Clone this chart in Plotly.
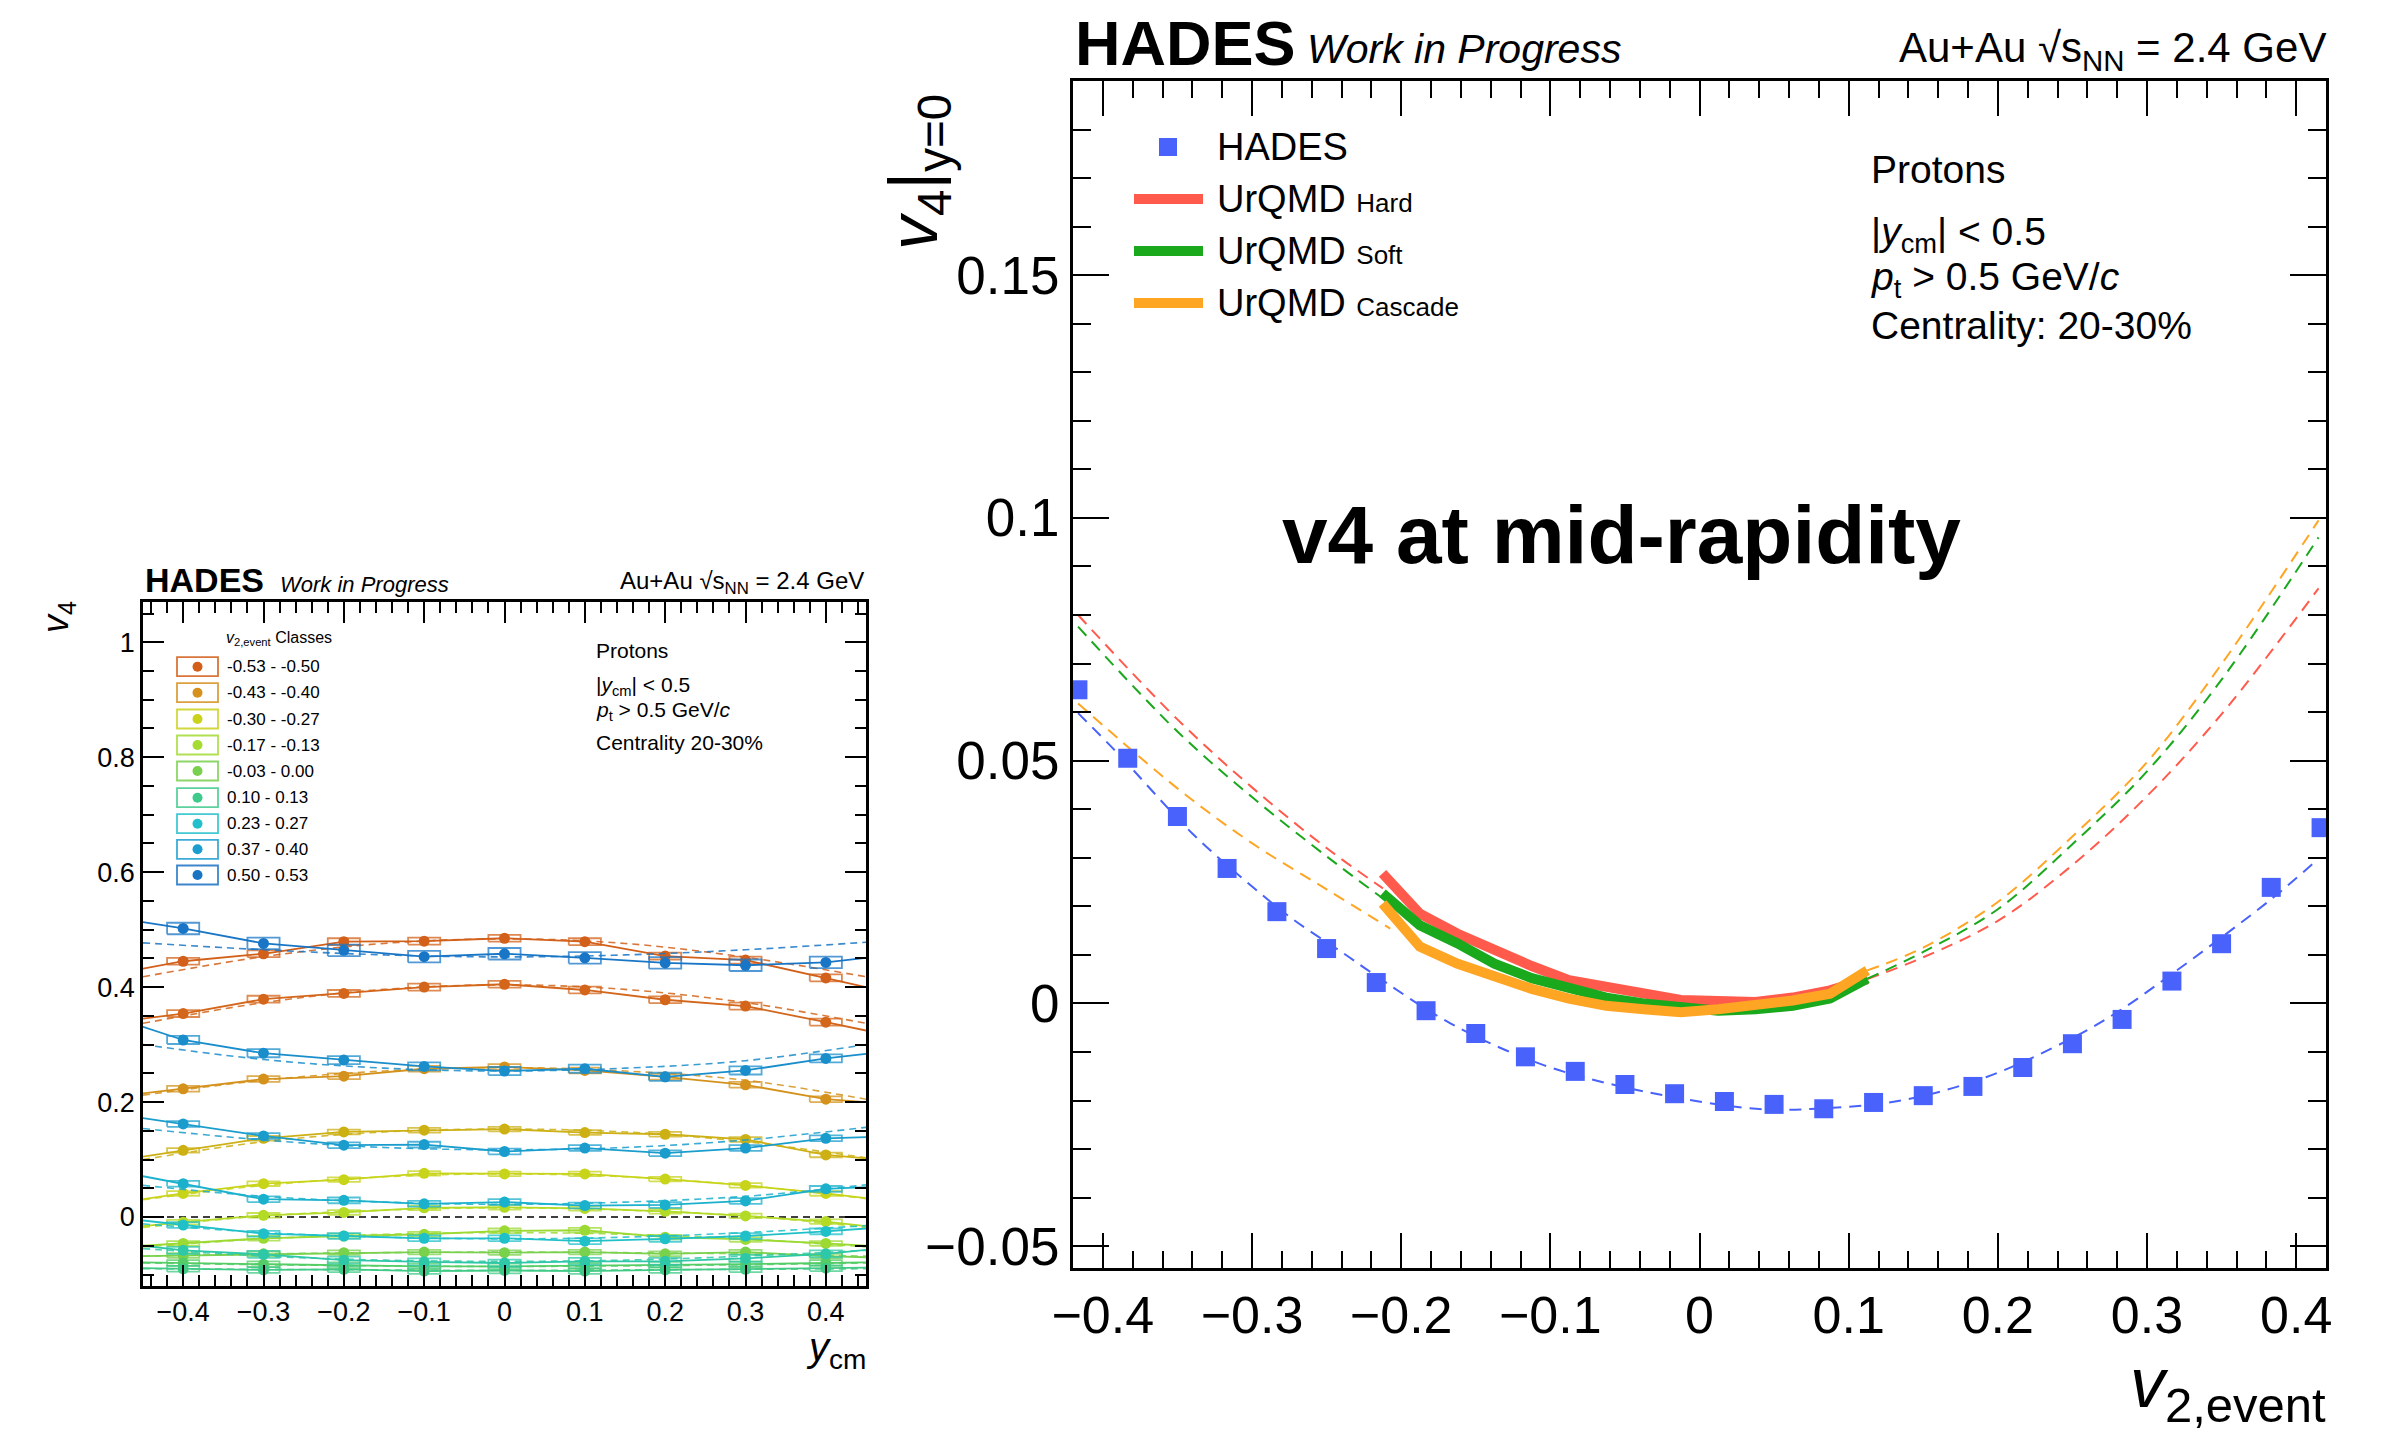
import plotly.graph_objects as go

W, H = 2387, 1438
FONT = "Liberation Sans, Arial, Helvetica, sans-serif"

# ---------------- right panel: v4|y=0 vs v2,event ----------------
hades_v2 = [-0.4167, -0.3833, -0.35, -0.3167, -0.2833, -0.25, -0.2167, -0.1833, -0.15,
            -0.1167, -0.0833, -0.05, -0.0167, 0.0167, 0.05, 0.0833, 0.1167, 0.15, 0.1833,
            0.2167, 0.25, 0.2833, 0.3167, 0.35, 0.3833, 0.4167]
hades_v4 = [0.0646, 0.0505, 0.0385, 0.0278, 0.0189, 0.0113, 0.0043, -0.0015, -0.0062,
            -0.0110, -0.0140, -0.0167, -0.0186, -0.0202, -0.0208, -0.0217, -0.0204, -0.0190,
            -0.0171, -0.0132, -0.0083, -0.0033, 0.0046, 0.0123, 0.0239, 0.0362]

hades_fit_v2 = [-0.4166, -0.39, -0.34, -0.305, -0.272, -0.2385, -0.2193, -0.167, -0.1045,
                -0.036, 0.038, 0.078, 0.135, 0.192, 0.2495, 0.2816, 0.3155, 0.3495, 0.3834, 0.4128]
hades_fit_v4 = [0.0598, 0.0515, 0.0350, 0.0254, 0.0172, 0.0103, 0.0062, -0.0041, -0.0127,
                -0.0182, -0.0217, -0.0217, -0.0200, -0.0152, -0.0072, -0.0015, 0.0058, 0.0135,
                0.0215, 0.0292]

urqmd_v2 = [-0.2125, -0.1875, -0.1625, -0.1375, -0.1125, -0.0875, -0.0625, -0.0375,
            -0.0125, 0.0125, 0.0375, 0.0625, 0.0875, 0.1125]
urqmd_hard = [0.0268, 0.0185, 0.0144, 0.0110, 0.0077, 0.0048, 0.0033, 0.0018, 0.0007,
              0.0005, 0.0003, 0.0012, 0.0027, 0.0050]
urqmd_soft = [0.0227, 0.0161, 0.0124, 0.0082, 0.0052, 0.0030, 0.0012, 0.0000, -0.0008,
              -0.0015, -0.0012, -0.0005, 0.0010, 0.0051]
urqmd_cascade = [0.0206, 0.0117, 0.0082, 0.0055, 0.0030, 0.0010, -0.0005, -0.0012, -0.0018,
                 -0.0012, -0.0004, 0.0006, 0.0020, 0.0068]

fitL_v2 = [-0.4166, -0.35, -0.30, -0.25, -0.2122]
fitL_v2_cascade = [-0.4166, -0.35, -0.30, -0.25, -0.2073]
fitL_hard = [0.0800, 0.0585, 0.0445, 0.0320, 0.0237]
fitL_soft = [0.0776, 0.0560, 0.0425, 0.0303, 0.0216]
fitL_cascade = [0.0618, 0.0443, 0.0330, 0.0235, 0.0154]
fitR_v2 = [0.1125, 0.15, 0.20, 0.25, 0.30, 0.35, 0.415]
fitR_hard = [0.0050, 0.0095, 0.0170, 0.0285, 0.0427, 0.0596, 0.0855]
fitR_soft = [0.0051, 0.0106, 0.0194, 0.0328, 0.0478, 0.0667, 0.0960]
fitR_cascade = [0.0068, 0.0115, 0.0209, 0.0344, 0.0497, 0.0699, 0.0995]

C_HADES = "#4862FB"
C_HARD = "#FF5A4B"
C_SOFT = "#1AA81C"
C_CASC = "#FFA524"

# ---------------- left panel: v4 vs y_cm ----------------
ycm = [-0.4, -0.3, -0.2, -0.1, 0.0, 0.1, 0.2, 0.3, 0.4]
ycm_edges = [-0.45, 0.45]
ycm_fit = [-0.45, -0.3, -0.15, 0.0, 0.15, 0.3, 0.45]

v4_s01 = [0.445, 0.458, 0.479, 0.480, 0.485, 0.479, 0.454, 0.447, 0.416]
v4_s02 = [0.354, 0.379, 0.389, 0.400, 0.405, 0.395, 0.378, 0.367, 0.339]
v4_s03 = [0.223, 0.240, 0.245, 0.258, 0.261, 0.255, 0.244, 0.230, 0.205]
v4_s04 = [0.116, 0.137, 0.148, 0.151, 0.153, 0.147, 0.144, 0.135, 0.108]
v4_s05 = [0.041, 0.058, 0.065, 0.076, 0.075, 0.075, 0.066, 0.055, 0.041]
v4_s06 = [-0.009, 0.003, 0.008, 0.016, 0.017, 0.015, 0.010, 0.002, -0.008]
v4_s07 = [-0.046, -0.037, -0.033, -0.030, -0.024, -0.023, -0.035, -0.039, -0.046]
v4_s08 = [-0.067, -0.064, -0.062, -0.061, -0.062, -0.061, -0.064, -0.061, -0.068]
v4_s09 = [-0.080, -0.082, -0.084, -0.086, -0.086, -0.085, -0.083, -0.082, -0.080]
v4_s10 = [-0.090, -0.092, -0.091, -0.094, -0.093, -0.094, -0.092, -0.091, -0.089]
v4_s11 = [-0.058, -0.065, -0.075, -0.078, -0.080, -0.077, -0.077, -0.072, -0.064]
v4_s12 = [-0.014, -0.029, -0.033, -0.037, -0.037, -0.042, -0.038, -0.033, -0.025]
v4_s13 = [0.058, 0.031, 0.029, 0.023, 0.026, 0.020, 0.021, 0.028, 0.049]
v4_s14 = [0.162, 0.141, 0.125, 0.126, 0.114, 0.120, 0.111, 0.120, 0.137]
v4_s15 = [0.308, 0.285, 0.273, 0.262, 0.254, 0.258, 0.244, 0.255, 0.276]
v4_s16 = [0.502, 0.476, 0.464, 0.453, 0.458, 0.451, 0.442, 0.438, 0.443]

edge_s01 = [0.432, 0.400]
edge_s02 = [0.345, 0.3245]
edge_s03 = [0.215, 0.200]
edge_s04 = [0.105, 0.102]
edge_s05 = [0.031, 0.033]
edge_s06 = [-0.016, -0.016]
edge_s07 = [-0.050, -0.050]
edge_s08 = [-0.068, -0.070]
edge_s09 = [-0.079, -0.079]
edge_s10 = [-0.089, -0.088]
edge_s11 = [-0.050, -0.057]
edge_s12 = [-0.006, -0.020]
edge_s13 = [0.071, 0.052]
edge_s14 = [0.172, 0.139]
edge_s15 = [0.331, 0.284]
edge_s16 = [0.513, 0.451]

fit_s01 = [0.418, 0.453, 0.476, 0.484, 0.476, 0.452, 0.418]
fit_s02 = [0.337, 0.373, 0.396, 0.404, 0.396, 0.373, 0.337]
fit_s03 = [0.212, 0.238, 0.254, 0.260, 0.254, 0.238, 0.205]
fit_s04 = [0.100, 0.131, 0.148, 0.153, 0.148, 0.131, 0.103]
fit_s05 = [0.030, 0.055, 0.070, 0.075, 0.070, 0.055, 0.032]
fit_s06 = [-0.018, 0.002, 0.012, 0.016, 0.012, 0.002, -0.018]
fit_s07 = [-0.052, -0.038, -0.030, -0.027, -0.030, -0.038, -0.052]
fit_s08 = [-0.068, -0.064, -0.062, -0.061, -0.062, -0.064, -0.068]
fit_s09 = [-0.080, -0.083, -0.085, -0.086, -0.085, -0.083, -0.080]
fit_s10 = [-0.090, -0.091, -0.092, -0.093, -0.092, -0.091, -0.090]
fit_s11 = [-0.055, -0.068, -0.075, -0.077, -0.075, -0.068, -0.058]
fit_s12 = [-0.012, -0.027, -0.035, -0.038, -0.035, -0.027, -0.015]
fit_s13 = [0.055, 0.036, 0.026, 0.022, 0.026, 0.036, 0.056]
fit_s14 = [0.154, 0.134, 0.121, 0.117, 0.121, 0.134, 0.156]
fit_s15 = [0.300, 0.274, 0.259, 0.254, 0.259, 0.272, 0.300]
fit_s16 = [0.477, 0.465, 0.456, 0.4525, 0.456, 0.465, 0.478]

sys_err = [0.006, 0.006, 0.005, 0.004, 0.004, 0.004, 0.004, 0.004,
           0.005, 0.005, 0.006, 0.005, 0.005, 0.005, 0.007, 0.010]
series_colors = ["#D2601A", "#D3661A", "#D4921C", "#CDB014", "#C8D41A", "#B3DA25",
                 "#9CDA33", "#7AD14C", "#55CD66", "#40CA85", "#2EC8A8", "#20C0C9",
                 "#1BB0CC", "#1A9DCD", "#1A8DCB", "#1976C6"]

legend_labels = ["-0.53 - -0.50", "-0.43 - -0.40", "-0.30 - -0.27", "-0.17 - -0.13",
                 "-0.03 - 0.00", "0.10 - 0.13", "0.23 - 0.27", "0.37 - 0.40", "0.50 - 0.53"]
legend_colors = ["#D35E19", "#D6901E", "#CBD21C", "#A4DC32", "#78D04E", "#3FCA8C",
                 "#22C0CC", "#1B9DD0", "#1B73C4"]

all_v4 = [v4_s01, v4_s02, v4_s03, v4_s04, v4_s05, v4_s06, v4_s07, v4_s08,
          v4_s09, v4_s10, v4_s11, v4_s12, v4_s13, v4_s14, v4_s15, v4_s16]
all_edge = [edge_s01, edge_s02, edge_s03, edge_s04, edge_s05, edge_s06, edge_s07, edge_s08,
            edge_s09, edge_s10, edge_s11, edge_s12, edge_s13, edge_s14, edge_s15, edge_s16]
all_fit = [fit_s01, fit_s02, fit_s03, fit_s04, fit_s05, fit_s06, fit_s07, fit_s08,
           fit_s09, fit_s10, fit_s11, fit_s12, fit_s13, fit_s14, fit_s15, fit_s16]


def px(x):
    return x / W


def py(y):
    return 1 - y / H


fig = go.Figure()

# ---- left panel traces ----
fig.add_trace(go.Scatter(x=ycm_edges, y=[0, 0], mode="lines", xaxis="x", yaxis="y",
                         line=dict(color="black", width=1.6, dash="7px,5px"),
                         hoverinfo="skip"))
BOX_HW = 0.02
for v4s, edges, fits, se, col in zip(all_v4, all_edge, all_fit, sys_err, series_colors):
    fig.add_trace(go.Scatter(x=ycm_fit, y=fits, mode="lines", xaxis="x", yaxis="y",
                             line=dict(color=col, width=1.6, dash="7px,5px", shape="spline"),
                             opacity=0.85, hoverinfo="skip"))
    bx, by = [], []
    for xv, yv in zip(ycm, v4s):
        bx += [xv - BOX_HW, xv + BOX_HW, xv + BOX_HW, xv - BOX_HW, xv - BOX_HW, None]
        by += [yv - se, yv - se, yv + se, yv + se, yv - se, None]
    fig.add_trace(go.Scatter(x=bx, y=by, mode="lines", xaxis="x", yaxis="y",
                             line=dict(color=col, width=1.8), opacity=0.75,
                             hoverinfo="skip"))
    fig.add_trace(go.Scatter(x=[ycm_edges[0]] + ycm + [ycm_edges[1]],
                             y=[edges[0]] + v4s + [edges[1]],
                             mode="lines", xaxis="x", yaxis="y",
                             line=dict(color=col, width=1.8), hoverinfo="skip"))
    fig.add_trace(go.Scatter(x=ycm, y=v4s, mode="markers", xaxis="x", yaxis="y",
                             marker=dict(color=col, size=11, symbol="circle"),
                             hoverinfo="skip"))

# ---- right panel traces ----
dash_r = "12px,8px"
fig.add_trace(go.Scatter(x=hades_fit_v2, y=hades_fit_v4, mode="lines", xaxis="x2", yaxis="y2",
                         line=dict(color=C_HADES, width=2, dash=dash_r, shape="spline")))
for xs, ys, col in [(fitL_v2, fitL_hard, C_HARD), (fitL_v2, fitL_soft, C_SOFT),
                    (fitL_v2_cascade, fitL_cascade, C_CASC),
                    (fitR_v2, fitR_hard, C_HARD), (fitR_v2, fitR_soft, C_SOFT),
                    (fitR_v2, fitR_cascade, C_CASC)]:
    fig.add_trace(go.Scatter(x=xs, y=ys, mode="lines", xaxis="x2", yaxis="y2",
                             line=dict(color=col, width=2, dash=dash_r, shape="spline")))
for ys, col in [(urqmd_hard, C_HARD), (urqmd_soft, C_SOFT), (urqmd_cascade, C_CASC)]:
    fig.add_trace(go.Scatter(x=urqmd_v2, y=ys, mode="lines", xaxis="x2", yaxis="y2",
                             line=dict(color=col, width=10)))
fig.add_trace(go.Scatter(x=hades_v2, y=hades_v4, mode="markers", xaxis="x2", yaxis="y2",
                         marker=dict(color=C_HADES, size=19, symbol="square",
                                     line=dict(width=0))))


# ---------------- axes ----------------
def axis_common(fs, tl, mtl, lw, dt, mdt):
    return dict(showgrid=False, zeroline=False, showline=True, linecolor="black",
                linewidth=lw, mirror="allticks", ticks="inside", ticklen=tl, tickwidth=2,
                tickcolor="black", dtick=dt, tick0=0, automargin=False,
                tickfont=dict(family=FONT, size=fs, color="black"),
                minor=dict(dtick=mdt, ticks="inside", ticklen=mtl, tickwidth=2,
                           tickcolor="black", showgrid=False))


fig.update_layout(
    width=W, height=H, margin=dict(l=0, r=0, t=0, b=0, pad=0, autoexpand=False),
    paper_bgcolor="white", plot_bgcolor="white", showlegend=False,
    font=dict(family=FONT, color="black"),
    xaxis=dict(domain=[px(143), px(866)], range=[-0.45, 0.45], anchor="y",
               **axis_common(27, 21, 11, 2.5, 0.1, 0.02)),
    yaxis=dict(domain=[py(1286), py(602)], range=[-0.12, 1.07], anchor="x",
               **axis_common(27, 21, 11, 2.5, 0.2, 0.05)),
    xaxis2=dict(domain=[px(1073), px(2326)], range=[-0.42, 0.42], anchor="y2",
                **axis_common(52, 35, 17, 3, 0.1, 0.02)),
    yaxis2=dict(domain=[py(1268), py(81)], range=[-0.0545, 0.190], anchor="x2",
                **axis_common(53, 36, 18, 3, 0.05, 0.01)),
)

ann = []
shapes = []


def text(x, y, t, size, xanchor="left", yanchor="middle", angle=0):
    ann.append(dict(x=px(x), y=py(y), xref="paper", yref="paper", text=t, showarrow=False,
                    xanchor=xanchor, yanchor=yanchor, textangle=angle,
                    font=dict(family=FONT, size=size, color="black")))


# ---- right panel header & labels ----
text(1073, 43, "<b>HADES</b>", 63)
text(1305, 49, "<i>Work in Progress</i>", 41)
text(2328, 50, "Au+Au √s<sub>NN</sub> = 2.4 GeV", 42, xanchor="right")
text(1621, 534, "<b>v4 at mid-rapidity</b>", 82, xanchor="center")
text(1869, 169, "Protons", 39)
text(1869, 234, "|<i>y</i><sub>cm</sub>| < 0.5", 39)
text(1869, 280, "<i>p</i><sub>t</sub> > 0.5 GeV/<i>c</i>", 39)
text(1869, 325, "Centrality: 20-30%", 39)
text(918, 172, "<i>v</i><sub>4</sub>|<sub>y=0</sub>", 68, xanchor="center", angle=-90)
text(2328, 1388, "<i>v</i><sub>2,event</sub>", 70, xanchor="right")

# ---- right legend (manual) ----
leg_r_labels = ["HADES", "UrQMD <span style='font-size:26px'>Hard</span>",
                "UrQMD <span style='font-size:26px'>Soft</span>",
                "UrQMD <span style='font-size:26px'>Cascade</span>"]
leg_r_y = [147, 199, 251, 303]
shapes.append(dict(type="rect", xref="paper", yref="paper",
                   x0=px(1159), x1=px(1177), y0=py(156), y1=py(138),
                   fillcolor=C_HADES, line=dict(width=0)))
for yy, col in zip(leg_r_y[1:], [C_HARD, C_SOFT, C_CASC]):
    shapes.append(dict(type="line", xref="paper", yref="paper", x0=px(1134), x1=px(1203),
                       y0=py(yy), y1=py(yy), line=dict(color=col, width=10)))
for yy, lab in zip(leg_r_y, leg_r_labels):
    text(1215, yy, lab, 38)

# ---- left panel header & labels ----
text(143, 580, "<b>HADES</b>", 34)
text(278, 584, "<i>Work in Progress</i>", 22)
text(866, 582, "Au+Au √s<sub>NN</sub> = 2.4 GeV", 24, xanchor="right")
text(594, 650, "Protons", 21)
text(594, 686, "|<i>y</i><sub>cm</sub>| < 0.5", 21)
text(594, 711, "<i>p</i><sub>t</sub> > 0.5 GeV/<i>c</i>", 21)
text(594, 742, "Centrality 20-30%", 21)
text(58, 617, "<i>v</i><sub>4</sub>", 36, xanchor="center", angle=-90)
text(868, 1350, "<i>y</i><sub>cm</sub>", 40, xanchor="right")

# ---- left legend (manual) ----
text(224, 638, "<i>v</i><sub>2,event</sub> Classes", 16)
leg_l_y = [666.7, 692.7, 719, 745, 771, 797.7, 823.7, 849.3, 875]
for yy, lab, col in zip(leg_l_y, legend_labels, legend_colors):
    shapes.append(dict(type="rect", xref="paper", yref="paper", x0=px(177), x1=px(218),
                       y0=py(yy + 9.5), y1=py(yy - 9.5), line=dict(color=col, width=1.8),
                       opacity=0.85))
    shapes.append(dict(type="circle", xref="paper", yref="paper", x0=px(192.5), x1=px(202.5),
                       y0=py(yy + 5), y1=py(yy - 5), fillcolor=col, line=dict(width=0)))
    text(225, yy, lab, 17)

fig.update_layout(annotations=ann, shapes=shapes)
fig.write_html("out.html")
